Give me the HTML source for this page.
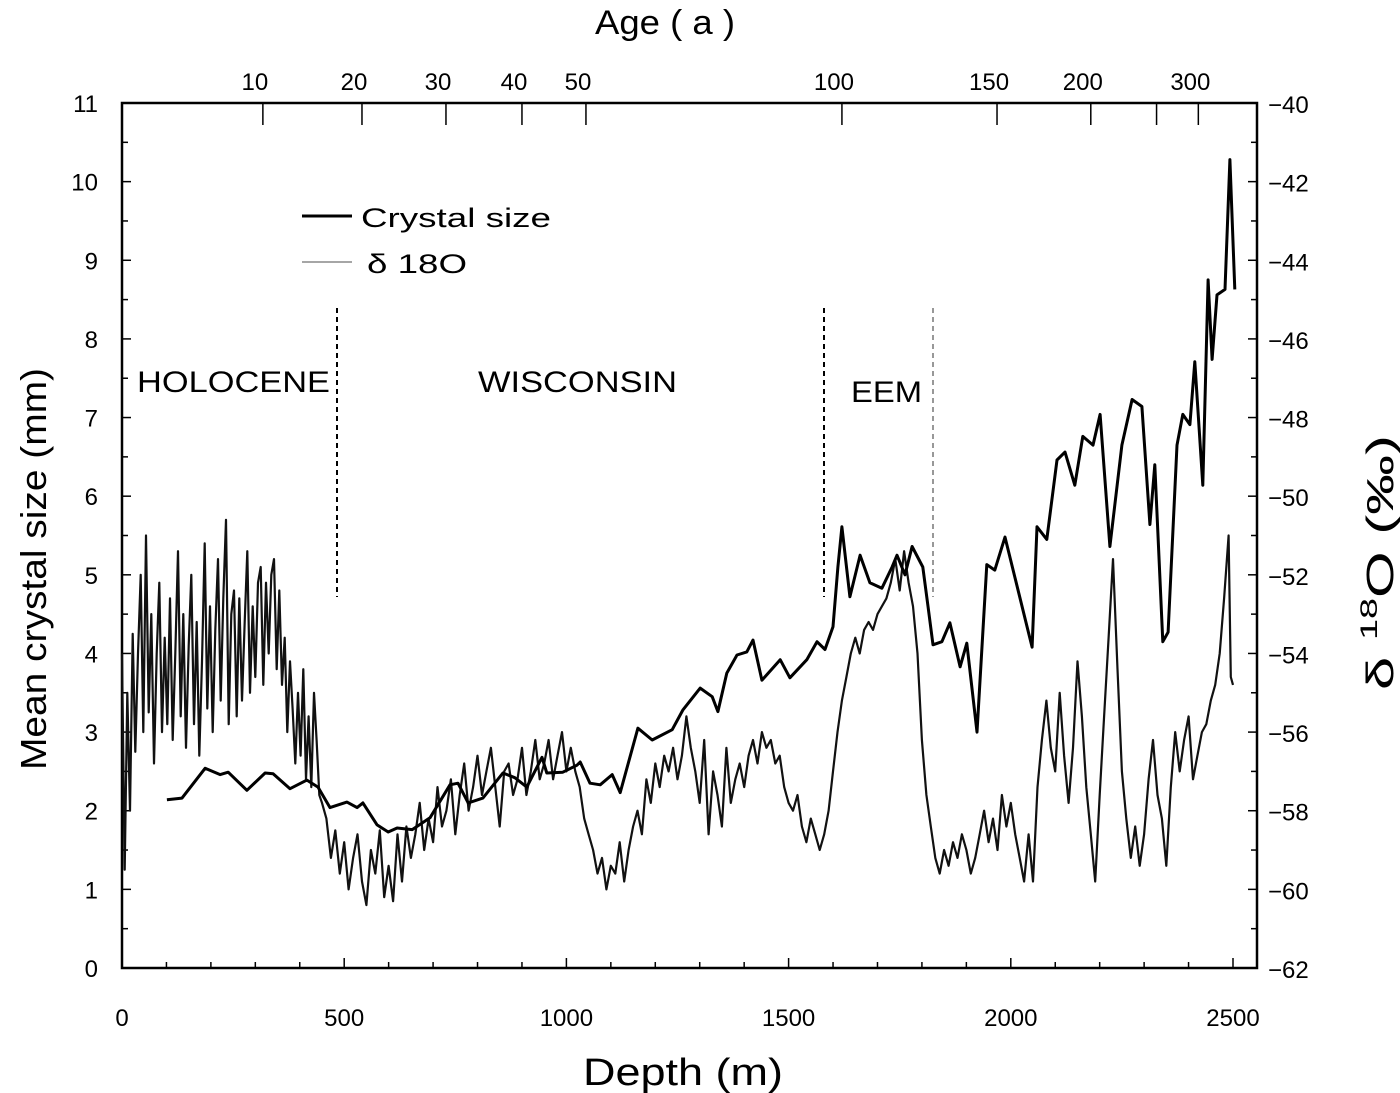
<!DOCTYPE html>
<html><head><meta charset="utf-8"><style>
body{margin:0;background:#fff;}
svg{display:block;font-family:"Liberation Sans",Arial,sans-serif;}
</style></head><body>
<svg id="chart" width="1400" height="1093" viewBox="0 0 1400 1093">
<g id="axes"></g><g id="series"></g>
<text x="595" y="34" font-size="34" textLength="140" lengthAdjust="spacingAndGlyphs">Age ( a )</text>
<text x="583" y="1085" font-size="38" textLength="200" lengthAdjust="spacingAndGlyphs">Depth (m)</text>
<text transform="translate(46,770) rotate(-90)" font-size="36" textLength="402" lengthAdjust="spacingAndGlyphs">Mean crystal size (mm)</text>
<text transform="translate(1393,690) rotate(-90)" font-size="38" textLength="255" lengthAdjust="spacingAndGlyphs">δ <tspan font-size="24" dy="-16">18</tspan><tspan dy="16">O (‰)</tspan></text>
<g>
<line x1="302" y1="216" x2="352" y2="216" stroke="#000" stroke-width="3"/>
<text x="361" y="227" font-size="27" textLength="190" lengthAdjust="spacingAndGlyphs">Crystal size</text>
<line x1="302" y1="262" x2="352" y2="262" stroke="#888" stroke-width="1.5"/>
<text x="367" y="273" font-size="27" textLength="100" lengthAdjust="spacingAndGlyphs">δ 18O</text>
</g>
<text x="137" y="392" font-size="30" textLength="193" lengthAdjust="spacingAndGlyphs">HOLOCENE</text>
<text x="478" y="392" font-size="30" textLength="199" lengthAdjust="spacingAndGlyphs">WISCONSIN</text>
<text x="851" y="402" font-size="30" textLength="71" lengthAdjust="spacingAndGlyphs">EEM</text>
<line x1="337" y1="308" x2="337" y2="597" stroke="#000" stroke-width="2" stroke-dasharray="5,4"/>
<line x1="824" y1="308" x2="824" y2="597" stroke="#000" stroke-width="2" stroke-dasharray="5,4"/>
<line x1="933" y1="308" x2="933" y2="597" stroke="#777" stroke-width="1.5" stroke-dasharray="5,4"/>
</svg>
<script>
const crystalDepth=[101,135,187,221,239,281,322,340,378,416,441,468,506,529,542,574,599,619,653,693,738,756,779,812,857,884,911,945,956,992,1024,1031,1053,1076,1103,1121,1161,1193,1238,1262,1301,1328,1341,1361,1384,1406,1420,1440,1481,1503,1541,1564,1582,1600,1611,1620,1638,1661,1683,1710,1733,1744,1762,1778,1802,1814,1825,1845,1863,1886,1901,1924,1946,1964,1987,2048,2059,2081,2104,2122,2144,2162,2185,2201,2223,2250,2273,2295,2313,2324,2342,2354,2374,2387,2403,2414,2432,2444,2453,2464,2482,2493,2504];
const crystalSize=[2.14,2.16,2.54,2.46,2.49,2.26,2.48,2.47,2.28,2.39,2.30,2.04,2.11,2.04,2.10,1.82,1.73,1.78,1.76,1.91,2.33,2.35,2.10,2.16,2.48,2.42,2.30,2.68,2.48,2.49,2.58,2.62,2.35,2.33,2.46,2.23,3.05,2.90,3.03,3.28,3.56,3.45,3.26,3.75,3.98,4.02,4.17,3.66,3.92,3.69,3.92,4.15,4.05,4.34,5.10,5.61,4.72,5.25,4.90,4.83,5.10,5.25,5.00,5.36,5.10,4.59,4.11,4.15,4.39,3.83,4.13,3.00,5.13,5.06,5.48,4.08,5.61,5.45,6.46,6.56,6.14,6.76,6.65,7.04,5.36,6.65,7.23,7.14,5.64,6.40,4.15,4.27,6.65,7.04,6.91,7.71,6.14,8.75,7.74,8.56,8.63,10.28,8.63];
const d18Depth=[
0,6,12,18,24,30,36,42,48,54,
60,66,72,78,84,90,96,102,108,114,
120,126,132,138,144,150,156,162,168,174,
180,186,192,198,204,210,216,222,228,234,
240,246,252,258,264,270,276,282,288,294,
300,306,312,318,324,330,336,342,348,354,
360,366,372,378,384,390,396,402,408,414,
420,426,432,438,444,450,
460,470,480,490,500,510,520,530,540,550,
560,570,580,590,600,610,620,630,640,650,
660,670,680,690,700,710,720,730,740,750,
760,770,780,790,800,810,820,830,840,850,
860,870,880,890,900,910,920,930,940,950,
960,970,980,990,1000,1010,1020,1030,1040,1050,
1060,1070,1080,1090,1100,1110,1120,1130,1140,1150,
1160,1170,1180,1190,1200,1210,1220,1230,1240,1250,
1260,1270,1280,1290,1300,1310,1320,1330,1340,1350,
1360,1370,1380,1390,1400,1410,1420,1430,1440,1450,
1460,1470,1480,1490,1500,1510,1520,1530,1540,1550,
1560,1570,1580,1590,1600,1610,1620,1630,1640,1650,
1660,1670,1680,1690,1700,1710,1720,1730,1740,1750,
1760,1770,1780,1790,1800,1810,1820,1830,1840,1850,
1860,1870,1880,1890,1900,1910,1920,1930,1940,1950,
1960,1970,1980,1990,2000,2010,2020,2030,2040,2050,
2060,2070,2080,2090,2100,2110,2120,2130,2140,2150,
2160,2170,2180,2190,2200,2210,2220,2230,2240,2250,
2260,2270,2280,2290,2300,2310,2320,2330,2340,2350,
2360,2370,2380,2390,2400,2410,2420,2430,2440,2450,
2460,2470,2480,2490,2495,2500];
const d18Value=[
-54,-59.5,-55,-58,-53.5,-56.5,-54,-52,-56,-51,
-55.5,-53,-56.8,-54,-52.2,-56,-53.6,-55.8,-52.6,-56.2,
-54,-51.4,-55.6,-53,-56.4,-53.8,-52,-55.8,-53.2,-56.6,
-54.2,-51.2,-55.4,-52.8,-56,-53.4,-51.6,-55.2,-52.6,-50.6,
-55.8,-53,-52.4,-55.6,-52.6,-55.2,-53.2,-51.4,-55,-52.8,
-54.6,-52.2,-51.8,-54.8,-52.2,-54,-52,-51.6,-54.4,-52.4,
-54.8,-53.6,-56,-54.2,-55.4,-56.8,-55,-56.6,-54.4,-57.2,
-55.6,-57.4,-55,-56.2,-57.6,-57.8,
-58.2,-59.2,-58.5,-59.6,-58.8,-60,-59.2,-58.6,-59.8,-60.4,
-59,-59.6,-58.5,-60.2,-59.4,-60.3,-58.6,-59.8,-58.4,-59.2,
-58.6,-57.8,-59,-58.2,-58.8,-57.4,-58.4,-58,-57.2,-58.6,
-57.6,-56.8,-58,-57.4,-56.6,-57.6,-57,-56.4,-57.4,-58.4,
-57,-56.8,-57.6,-57.2,-56.4,-57.6,-57,-56.2,-57.2,-56.8,
-56.2,-57.2,-56.6,-56,-57,-56.4,-57,-57.4,-58.2,-58.6,
-59,-59.6,-59.2,-60,-59.4,-59.6,-58.8,-59.8,-59,-58.4,
-58,-58.6,-57.2,-57.8,-56.8,-57.4,-56.6,-57,-56.4,-57.2,
-56.6,-55.6,-56.4,-57,-57.8,-56.2,-58.6,-57,-57.6,-58.4,
-56.4,-57.8,-57.2,-56.8,-57.4,-56.6,-56.2,-56.8,-56,-56.4,
-56.2,-56.8,-56.6,-57.4,-57.8,-58,-57.6,-58.4,-58.8,-58.2,
-58.6,-59,-58.6,-58,-57,-56,-55.2,-54.6,-54,-53.6,
-54,-53.4,-53.2,-53.4,-53,-52.8,-52.6,-52.2,-51.6,-52.4,
-51.4,-52.2,-52.8,-54,-56.2,-57.6,-58.4,-59.2,-59.6,-59,
-59.4,-58.8,-59.2,-58.6,-59,-59.6,-59.2,-58.6,-58,-58.8,
-58.2,-59,-57.6,-58.4,-57.8,-58.6,-59.2,-59.8,-58.6,-59.8,
-57.4,-56.2,-55.2,-56.4,-57,-55,-56.6,-57.8,-56.4,-54.2,
-55.6,-57.4,-58.6,-59.8,-57.6,-55.6,-53.6,-51.6,-54.4,-57,
-58.2,-59.2,-58.4,-59.4,-58.6,-57.2,-56.2,-57.6,-58.2,-59.4,
-57.4,-56,-57,-56.2,-55.6,-57.2,-56.6,-56,-55.8,-55.2,
-54.8,-54,-52.6,-51,-54.6,-54.8];
const leftTicks=[0,1,2,3,4,5,6,7,8,9,10,11];
const rightTicks=[-40,-42,-44,-46,-48,-50,-52,-54,-56,-58,-60,-62];
const depthTicks=[0,500,1000,1500,2000,2500];
const ageLabels=["10","20","30","40","50","100","150","200","","300"];
const ageDepth=[317,540,729,900,1044,1620,1969,2180,2328,2422];

const X0=122,X1=1257,Y0=968,Y1=103;
const sx=d=>X0+d*0.4444;
const sy=v=>Y0-(v/11)*(Y0-Y1);
const sr=v=>sy((v+62)/2);
const NS='http://www.w3.org/2000/svg';
const ax=document.getElementById('axes'),se=document.getElementById('series');
function mk(tag,attrs,parent){const e=document.createElementNS(NS,tag);for(const k in attrs)e.setAttribute(k,attrs[k]);parent.appendChild(e);return e;}
const frame=mk('rect',{x:X0,y:Y1,width:X1-X0,height:Y0-Y1,fill:'none',stroke:'#000','stroke-width':2.5},ax);


for(let v=0;v<=11;v+=0.5){const l=mk('line',{x1:X0,x2:X0+(v%1?6:9),y1:sy(v),y2:sy(v),stroke:'#000','stroke-width':1.5},ax);

}
leftTicks.forEach(v=>{const t=mk('text',{x:98,y:sy(v)+9,'font-size':24,'text-anchor':'end'},ax);t.textContent=v;

});
for(let v=-62;v<=-40;v+=1){const l=mk('line',{x1:X1,x2:X1-(v%2?6:9),y1:sr(v),y2:sr(v),stroke:'#000','stroke-width':1.5},ax);

}
rightTicks.forEach(v=>{const t=mk('text',{x:1268,y:sr(v)+10,'font-size':24},ax);t.textContent='−'+Math.abs(v);

});
for(let d=0;d<=2500;d+=100){const l=mk('line',{x1:sx(d),x2:sx(d),y1:Y0,y2:Y0-(d%500?6:10),stroke:'#000','stroke-width':1.5},ax);

}
depthTicks.forEach(d=>{const t=mk('text',{x:sx(d),y:1026,'font-size':24,'text-anchor':'middle'},ax);t.textContent=d;

});
ageDepth.forEach((d,i)=>{const l=mk('line',{x1:sx(d),x2:sx(d),y1:Y1,y2:Y1+22,stroke:'#000','stroke-width':1.5},ax);


if(ageLabels[i]){const t=mk('text',{x:sx(d)-8,y:90,'font-size':24,'text-anchor':'middle'},ax);t.textContent=ageLabels[i];

}});
const dpts=d18Depth.map((d,i)=>sx(d).toFixed(1)+','+sr(d18Value[i]).toFixed(1)).join(' ');
const p1=mk('polyline',{points:dpts,fill:'none',stroke:'#111','stroke-width':2.2,'stroke-linejoin':'round'},se);


const cpts=crystalDepth.map((d,i)=>sx(d).toFixed(1)+','+sy(crystalSize[i]).toFixed(1)).join(' ');
const p2=mk('polyline',{points:cpts,fill:'none',stroke:'#000','stroke-width':3,'stroke-linejoin':'round'},se);


</script>
</body></html>
